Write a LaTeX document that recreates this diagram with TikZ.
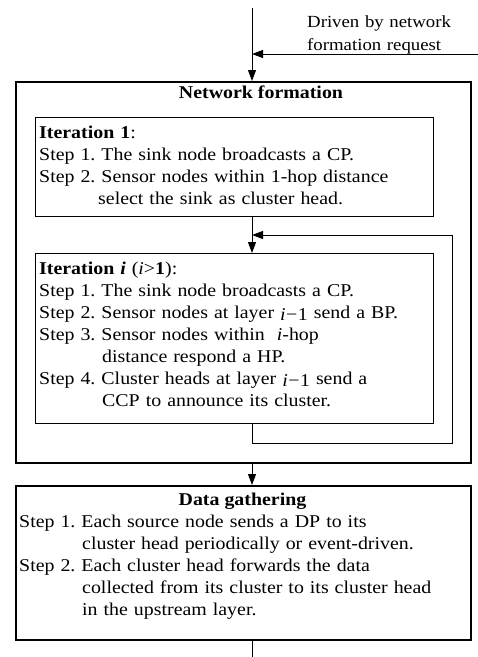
\documentclass[tikz,border=0pt]{standalone}
\usepackage{fontspec}
\setmainfont{Liberation Serif}[FakeStretch=1.105]
\usetikzlibrary{arrows.meta}

\newcommand{\imo}{\raisebox{-2pt}{\textit{i}\kern0.5pt\symbol{"2212}\kern0.5pt1}}

\begin{document}
\frenchspacing
\begin{tikzpicture}[x=1pt,y=-1pt,
  arr/.style={line width=0.9pt,-{Triangle[length=11pt,width=8pt]}},
  wire/.style={line width=0.9pt},
  bigbox/.style={draw,line width=1.8pt,inner sep=0,anchor=north west},
  smallbox/.style={draw,line width=0.8pt,inner sep=0,anchor=north west},
  txt/.style={anchor=base west,inner sep=0,align=left,text width=470pt,
              font=\fontsize{18}{22}\selectfont},
  ttl/.style={anchor=base,inner sep=0,font=\fontsize{18}{22}\selectfont\bfseries}]
\useasboundingbox (0,0) rectangle (478,657);

% boxes
\node[bigbox,minimum width=455pt,minimum height=381pt] (outer) at (15,81) {};
\node[smallbox,minimum width=398pt,minimum height=99pt] (it1) at (35,117) {};
\node[smallbox,minimum width=398pt,minimum height=170pt] (iti) at (35,253) {};
\node[bigbox,minimum width=455pt,minimum height=154pt] (data) at (15,485) {};

% flow coordinates
\coordinate (in) at (252,8);
\coordinate (drv) at (478,54);
\coordinate (lb) at (252,443);
\coordinate (rt) at (452,235);
\coordinate (out) at (252,657);

% texts
\node[anchor=base west,inner sep=0,align=left,text width=170pt,
      font=\fontsize{17}{23}\selectfont] (drvtxt) at (307,27)
  {Driven by network\\formation request};
\node[ttl] (nftitle) at (261,98) {Network formation};
\node[txt] (it1txt) at (39,138) {%
  \textbf{Iteration 1}:\\
  Step 1. The sink node broadcasts a CP.\\
  Step 2. Sensor nodes within 1-hop distance\\
  \hspace*{59pt}select the sink as cluster head.};
\node[txt] (ititxt) at (39,274) {%
  \textbf{Iteration \textit{i}} (\textit{i}>\textbf{1}):\\
  Step 1. The sink node broadcasts a CP.\\
  Step 2. Sensor nodes at layer \imo\ send a BP.\\
  Step 3. Sensor nodes within \ \textit{i}-hop\\
  \hspace*{63pt}distance respond a HP.\\
  Step 4. Cluster heads at layer \imo\ send a\\
  \hspace*{63pt}CCP to announce its cluster.};
\node[ttl] (dgtitle) at (242.5,505) {Data gathering};
\node[txt] (dgtxt) at (19,527) {%
  Step 1. Each source node sends a DP to its\\
  \hspace*{63pt}cluster head periodically or event-driven.\\
  Step 2. Each cluster head forwards the data\\
  \hspace*{63pt}collected from its cluster to its cluster head\\
  \hspace*{63pt}in the upstream layer.};

% connectors
\draw[arr] (in) -- (in |- outer.north);
\draw[arr] (drv) -- (in |- drv);
\draw[arr] (it1.south -| in) -- (iti.north -| in);
\draw[arr] (iti.south -| in) -- (lb) -| (rt) -- (rt -| in);
\draw[arr] (outer.south -| in) -- (data.north -| in);
\draw[wire] (data.south -| in) -- (out);
\end{tikzpicture}
\end{document}
